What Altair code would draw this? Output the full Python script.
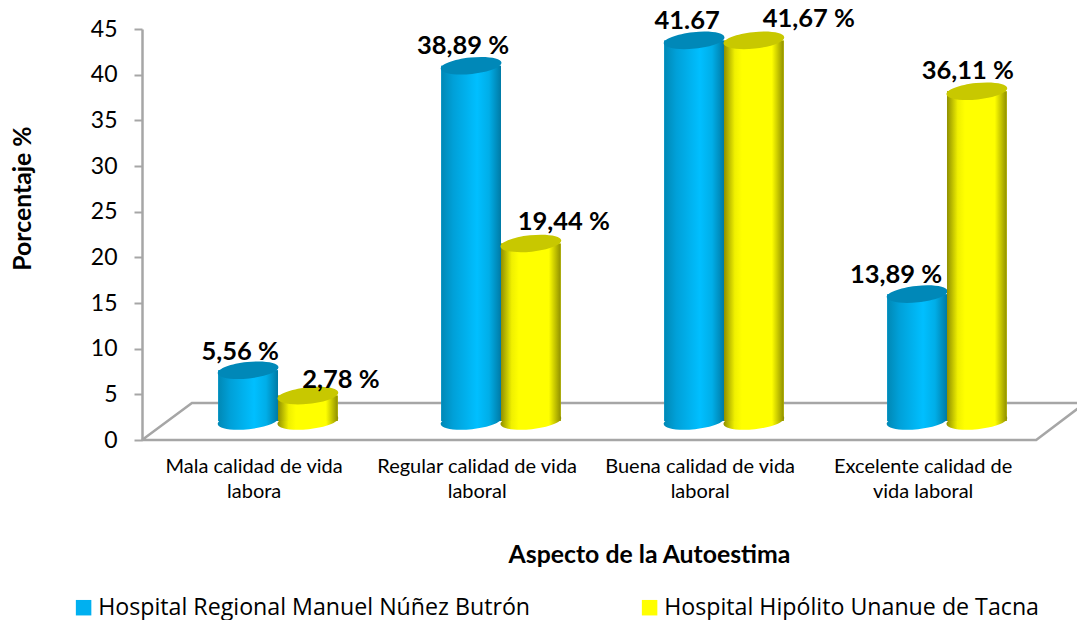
import altair as alt
import pandas as pd

categories = ["Mala calidad de vida\nlabora", "Regular calidad de vida\nlaboral",
              "Buena calidad de vida\nlaboral", "Excelente calidad de\nvida laboral"]
series_a = "Hospital Regional Manuel Núñez Butrón"
series_b = "Hospital Hipólito Unanue de Tacna"
values_a = [5.56, 38.89, 41.67, 13.89]
values_b = [2.78, 19.44, 41.67, 36.11]
labels_a = ["5,56 %", "38,89 %", "41.67", "13,89 %"]
labels_b = ["2,78 %", "19,44 %", "41,67 %", "36,11 %"]
yticks = list(range(0, 50, 5))

# --- layout (not data) ---
FONT = "Lato"
W, H = 935, 411
X_DOMAIN = [-0.6099, 3.583]
X_FLOOR_END = 3.6188
Y_DOMAIN = [0, 45]
HALF = 0.134
DEPTH = 2.08
BACK = 4.05
nudge_a = [(-8, -18), (-8, -20), (-7, -19), (-21, -19)]
nudge_b = [(33, -16), (33, -21), (55, -21), (-9, -20)]
stops_a = [(0, "#0088b5"), (0.2, "#00a0d8"), (0.6, "#00BFFF"), (0.8, "#00aee8"), (1, "#007aa5")]
stops_b = [(0, "#8f8f00"), (0.18, "#f0f000"), (0.3, "#ffff00"), (0.8, "#ffff00"), (1, "#8f8f00")]

xs = alt.Scale(domain=X_DOMAIN, nice=False, zero=False)
ys = alt.Scale(domain=Y_DOMAIN, nice=False)


def frame(group, vals, name):
    sign = -1 if group == 0 else 1
    return pd.DataFrame({
        "c": [i + sign * HALF for i in range(4)],
        "x0": [i + sign * HALF - HALF for i in range(4)],
        "x1": [i + sign * HALF + HALF for i in range(4)],
        "base": [DEPTH] * 4,
        "top": [v + DEPTH for v in vals],
        "series": [name] * 4,
    })


A = frame(0, values_a, series_a)
B = frame(1, values_b, series_b)


def grad(stops):
    return alt.Gradient(gradient="linear", x1=0, x2=1, y1=0, y2=0,
                        stops=[alt.GradientStop(offset=o, color=c) for o, c in stops])


ELL = "M -0.995 0.105 A 1 0.27 -6 1 1 0.995 -0.105 A 1 0.27 -6 1 1 -0.995 0.105 Z"
SIZE = 61 ** 2


def cylinder(df, stops, cap):
    g = grad(stops)
    base = alt.Chart(df).mark_point(shape=ELL, filled=True, fill=g, size=SIZE, opacity=1, strokeWidth=0).encode(
        x=alt.X("c:Q", scale=xs), y=alt.Y("base:Q", scale=ys))
    body = alt.Chart(df).mark_rect(fill=g).encode(
        x=alt.X("x0:Q", scale=xs), x2="x1:Q", y=alt.Y("base:Q", scale=ys), y2="top:Q")
    top = alt.Chart(df).mark_point(shape=ELL, filled=True, fill=cap, size=SIZE, opacity=1, strokeWidth=0).encode(
        x=alt.X("c:Q", scale=xs), y=alt.Y("top:Q", scale=ys))
    return [base, body, top]


def labels(df, texts, nudges):
    out = []
    for (_, r), t, (dx, dy) in zip(df.iterrows(), texts, nudges):
        d = pd.DataFrame({"c": [r["c"]], "top": [r["top"]], "t": [t]})
        out.append(alt.Chart(d).mark_text(font=FONT, fontWeight="bold", fontSize=25.5, color="black",
                                          dx=dx, dy=dy, align="center", baseline="middle").encode(
            x=alt.X("c:Q", scale=xs), y=alt.Y("top:Q", scale=ys), text="t:N"))
    return out


floor_df = pd.DataFrame({
    "x": [X_DOMAIN[0], -0.386, X_FLOOR_END, 3.40, X_DOMAIN[0]],
    "y": [0, BACK, BACK, 0, 0],
    "o": [0, 1, 2, 3, 4],
})
floor = alt.Chart(floor_df).mark_line(color="#a6a6a6", strokeWidth=2.5).encode(
    x=alt.X("x:Q", scale=xs,
            axis=alt.Axis(title="Aspecto de la Autoestima", labels=False, ticks=False, domain=False, grid=False,
                          titleFont=FONT, titleFontSize=24.8, titleFontWeight="bold", titleColor="black",
                          titleX=507, titleY=102, titleAnchor="middle")),
    y=alt.Y("y:Q", scale=ys,
            axis=alt.Axis(title="Porcentaje %", values=yticks, grid=False, domainColor="#a6a6a6", domainWidth=2.5,
                          tickColor="#a6a6a6", tickWidth=2, tickSize=8, labelFont=FONT, labelFontSize=23,
                          labelColor="black", labelPadding=17, titleFont=FONT, titleFontSize=24.8,
                          titleFontWeight="bold", titleColor="black", titleX=-119, titleY=169,
                          titleBaseline="middle", titleAnchor="middle")),
    order="o:Q",
)

both = pd.concat([A, B])
legend_layer = alt.Chart(both).mark_rect().encode(
    x=alt.X("x0:Q", scale=xs), x2="x1:Q", y=alt.Y("base:Q", scale=ys), y2="top:Q",
    color=alt.Color("series:N",
                    scale=alt.Scale(domain=[series_a, series_b], range=["#00B0F0", "#FFFF00"]),
                    legend=alt.Legend(title=None, orient="none", legendX=-70, legendY=567, direction="horizontal",
                                      columns=2, columnPadding=107, symbolType="square", symbolSize=240,
                                      symbolStrokeWidth=0, symbolOpacity=1, labelFont="Open Sans", labelFontSize=23.2,
                                      labelColor="black", labelLimit=600, labelOffset=3)),
)

layers = [floor, legend_layer]
layers += cylinder(A, stops_a, "#0088B8")
layers += cylinder(B, stops_b, "#C8C800")
layers += labels(A, labels_a, nudge_a)
layers += labels(B, labels_b, nudge_b)

cat_df = pd.DataFrame({"x": [i - 0.107 for i in range(4)], "y": [-1.81] * 4, "t": categories})
layers.append(alt.Chart(cat_df).mark_text(font=FONT, fontSize=20, color="black", lineBreak="\n", lineHeight=25,
                                          align="center", baseline="top").encode(
    x=alt.X("x:Q", scale=xs), y=alt.Y("y:Q", scale=ys), text="t:N"))

chart = alt.layer(*layers).properties(
    width=W, height=H, autosize=alt.AutoSizeParams(type="none"),
    padding={"left": 134, "top": 21, "right": 0, "bottom": 180},
).configure_view(stroke=None)

chart.save("out.html", embed_options={"renderer": "svg", "actions": False})
